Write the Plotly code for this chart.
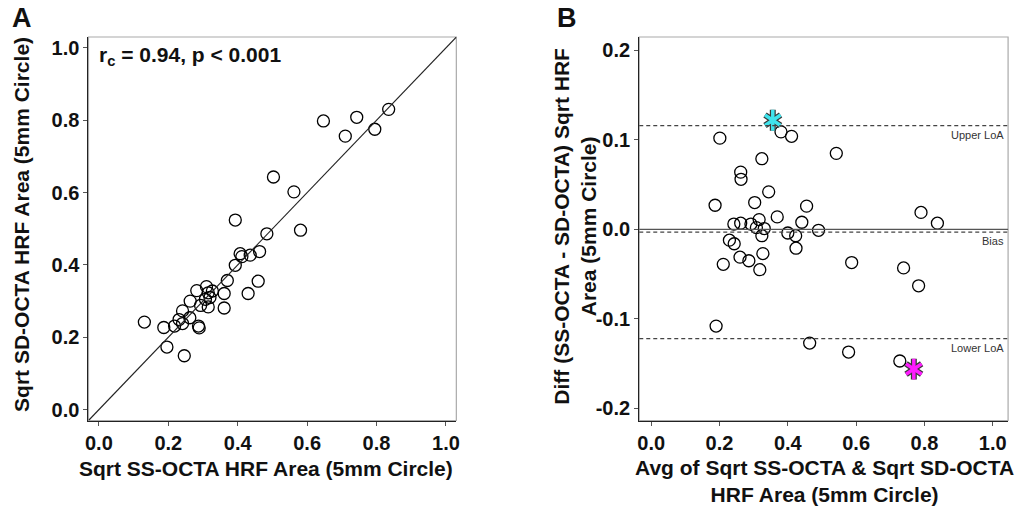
import plotly.graph_objects as go

# Panel A: SS-OCTA vs SD-OCTA (sqrt HRF area, 5mm circle)
ss_octa = [0.503, 0.393, 0.484, 0.407, 0.412, 0.436, 0.463, 0.393, 0.370, 0.459,
           0.430, 0.361, 0.361, 0.310, 0.282, 0.327, 0.315, 0.307, 0.293, 0.315,
           0.263, 0.241, 0.262, 0.231, 0.241, 0.218, 0.187, 0.131, 0.287, 0.289,
           0.196, 0.246, 0.647, 0.743, 0.710, 0.795, 0.835, 0.562, 0.581, 0.320]
sd_octa = [0.643, 0.524, 0.486, 0.431, 0.423, 0.427, 0.437, 0.399, 0.357, 0.355,
           0.321, 0.321, 0.281, 0.340, 0.329, 0.328, 0.323, 0.305, 0.288, 0.284,
           0.300, 0.273, 0.254, 0.249, 0.238, 0.231, 0.227, 0.242, 0.231, 0.226,
           0.173, 0.149, 0.798, 0.808, 0.756, 0.775, 0.830, 0.602, 0.496, 0.310]
stat_text = "<b>r<sub>c</sub> = 0.94, p &lt; 0.001</b>"

# Panel B: Bland-Altman
ba_avg = [0.380, 0.411, 0.201, 0.542, 0.324, 0.262, 0.263, 0.344, 0.187, 0.303,
          0.455, 0.369, 0.316, 0.441, 0.242, 0.262, 0.292, 0.308, 0.331, 0.490,
          0.400, 0.324, 0.423, 0.229, 0.243, 0.424, 0.327, 0.260, 0.286, 0.211,
          0.318, 0.587, 0.190, 0.464, 0.578, 0.790, 0.838, 0.739, 0.783, 0.728]
ba_diff = [0.109, 0.104, 0.102, 0.085, 0.079, 0.064, 0.056, 0.042, 0.027, 0.030,
           0.026, 0.014, 0.011, 0.008, 0.006, 0.007, 0.006, 0.002, 0.001, -0.001,
           -0.004, -0.007, -0.007, -0.012, -0.016, -0.021, -0.027, -0.031, -0.035, -0.039,
           -0.045, -0.037, -0.108, -0.127, -0.137, 0.019, 0.007, -0.043, -0.063, -0.147]
hl_avg = [0.356, 0.769]
hl_diff = [0.122, -0.156]
hl_colors = ['#3fe3ec', '#ff1cff']
bias = -0.003
upper_loa = 0.116
lower_loa = -0.122

ticks_a = [0.0, 0.2, 0.4, 0.6, 0.8, 1.0]
tick_labels_a = ['0.0', '0.2', '0.4', '0.6', '0.8', '1.0']
ticks_b = [-0.2, -0.1, 0.0, 0.1, 0.2]
tick_labels_b = ['-0.2', '-0.1', '0.0', '0.1', '0.2']

rng_a = [-0.03, 1.03]
rng_bx = [-0.035, 1.045]
rng_by = [-0.2135, 0.215]

FONT = 'Liberation Sans, Arial, sans-serif'
W, H = 1026, 513

fig = go.Figure()

circle = dict(symbol='circle-open', size=12, color='black', line=dict(width=1.3))

fig.add_trace(go.Scatter(x=ss_octa, y=sd_octa, mode='markers', marker=circle,
                         xaxis='x', yaxis='y', cliponaxis=False))
fig.add_trace(go.Scatter(x=ba_avg, y=ba_diff, mode='markers', marker=circle,
                         xaxis='x2', yaxis='y2', cliponaxis=False))
# highlighted cases as six-armed asterisks (outline then colour)
for sym in ['y-up-open', 'y-down-open']:
    fig.add_trace(go.Scatter(x=hl_avg, y=hl_diff, mode='markers', xaxis='x2', yaxis='y2',
                             marker=dict(symbol=sym, size=13, color='#3a3a3a', line=dict(width=6))))
for sym in ['y-up-open', 'y-down-open']:
    fig.add_trace(go.Scatter(x=hl_avg, y=hl_diff, mode='markers', xaxis='x2', yaxis='y2',
                             marker=dict(symbol=sym, size=13, color=hl_colors, line=dict(width=3.5))))

ydom = [1 - 420.5 / H, 1 - 37 / H]
ax_common = dict(showgrid=False, zeroline=False, showline=True, linecolor='#222', linewidth=1.2,
                 ticks='outside', ticklen=4, tickcolor='#555', tickwidth=1,
                 tickfont=dict(family=FONT, size=20, color='#111', weight='bold'))

fig.update_layout(
    width=W, height=H,
    margin=dict(l=0, r=0, t=0, b=0),
    paper_bgcolor='white', plot_bgcolor='white',
    showlegend=False,
    font=dict(family=FONT, color='#111'),
    xaxis=dict(domain=[86 / W, 456 / W], range=rng_a, anchor='y',
               tickvals=ticks_a, ticktext=tick_labels_a, **ax_common),
    yaxis=dict(domain=ydom, range=rng_a, anchor='x',
               tickvals=ticks_a, ticktext=tick_labels_a, **ax_common),
    xaxis2=dict(domain=[640 / W, 1011 / W], range=rng_bx, anchor='y2',
                tickvals=ticks_a, ticktext=tick_labels_a, **ax_common),
    yaxis2=dict(domain=ydom, range=rng_by, anchor='x2',
                tickvals=ticks_b, ticktext=tick_labels_b, **ax_common),
)

shapes = []
# light frame on top/right of each panel
for xd in ['x', 'x2']:
    yd = 'y' if xd == 'x' else 'y2'
    shapes.append(dict(type='rect', xref=xd + ' domain', yref=yd + ' domain', x0=0, x1=1, y0=0, y1=1,
                       line=dict(color='#aaaaaa', width=1.2), layer='below'))
# identity line
shapes.append(dict(type='line', xref='x', yref='y', x0=rng_a[0], y0=rng_a[0], x1=rng_a[1], y1=rng_a[1],
                   line=dict(color='#222', width=1.1)))
# Bland-Altman reference lines
shapes.append(dict(type='line', xref='x2 domain', yref='y2', x0=0, x1=1, y0=0, y1=0,
                   line=dict(color='#555', width=1.2)))
for v in [bias, upper_loa, lower_loa]:
    shapes.append(dict(type='line', xref='x2 domain', yref='y2', x0=0, x1=1, y0=v, y1=v,
                       line=dict(color='#444', width=1.2, dash='4px,3px')))
fig.update_layout(shapes=shapes)


def paper_text(text, px, py, size, angle=0):
    return dict(text=text, xref='paper', yref='paper', x=px / W, y=1 - py / H,
                xanchor='center', yanchor='middle', textangle=angle, showarrow=False,
                font=dict(size=size, family=FONT, color='#111'))


ann = [
    paper_text('<b>A</b>', 19, 18, 27),
    paper_text('<b>B</b>', 567, 18, 27),
    paper_text('<b>Sqrt SS-OCTA HRF Area (5mm Circle)</b>', 265, 468, 21),
    paper_text('<b>Sqrt SD-OCTA HRF Area (5mm Circle)</b>', 18, 224, 21, -90),
    paper_text('<b>Avg of Sqrt SS-OCTA & Sqrt SD-OCTA<br>HRF Area (5mm Circle)</b>', 826, 481, 21),
    paper_text('<b>Diff (SS-OCTA - SD-OCTA) Sqrt HRF<br>Area (5mm Circle)</b>', 575, 226, 21, -90),
]
ann.append(dict(text=stat_text, xref='x domain', yref='y domain', x=0.024, y=0.99,
                xanchor='left', yanchor='top', showarrow=False,
                font=dict(size=21, family=FONT, color='#111')))
for label, v in [('Upper LoA', upper_loa), ('Bias', bias), ('Lower LoA', lower_loa)]:
    ann.append(dict(text=label, xref='x2 domain', yref='y2', x=0.995, y=v, xanchor='right',
                    yanchor='top', yshift=-1, showarrow=False,
                    font=dict(size=11, family=FONT, color='#333')))
fig.update_layout(annotations=ann)

fig.write_html("out.html", config={'displayModeBar': False},
               post_script="document.body.style.margin='0';")
